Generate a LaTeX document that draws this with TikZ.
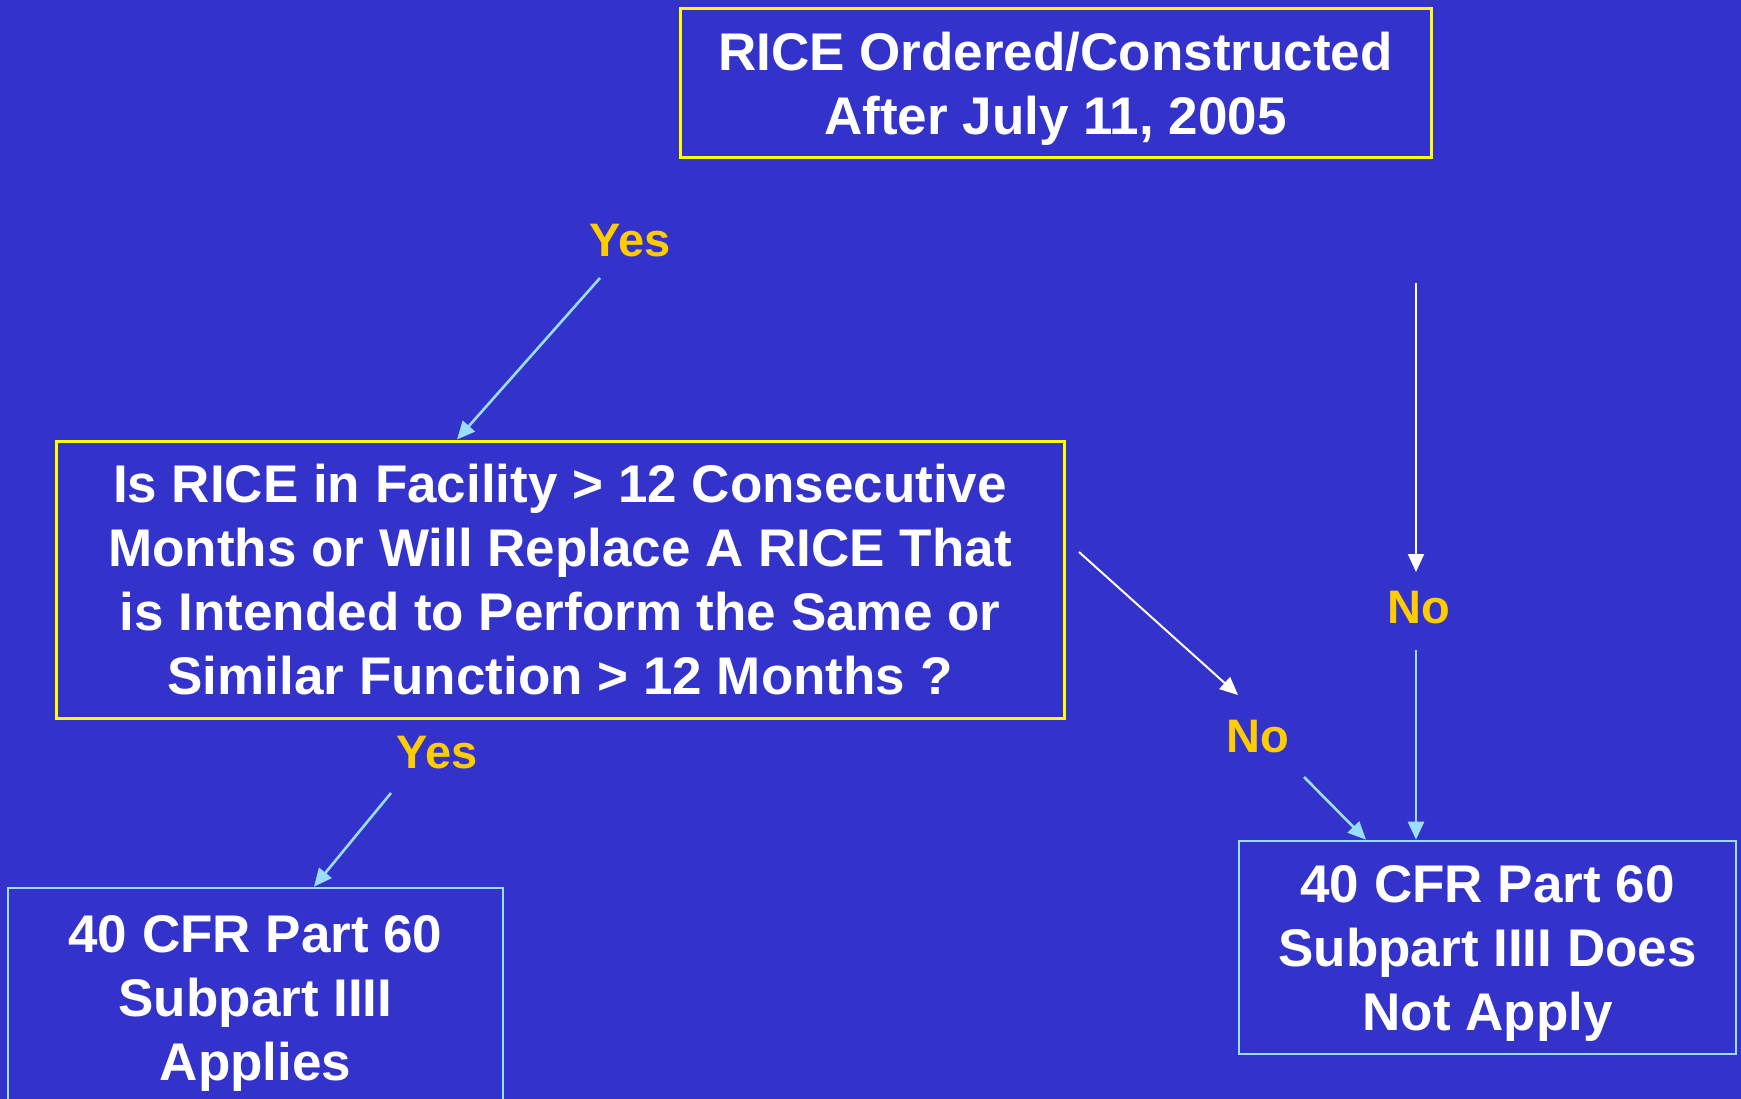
\documentclass[tikz,border=0pt]{standalone}
\usepackage{fontspec}
\setmainfont{Liberation Sans}
\usetikzlibrary{arrows.meta}
\definecolor{slidebg}{HTML}{3333CC}
\definecolor{boxyellow}{HTML}{FFFF00}
\definecolor{labelgold}{HTML}{FFCC00}
\definecolor{paleblue}{HTML}{99DDFF}
\tikzset{
  yellowbox/.style={draw=boxyellow, line width=3pt, text=white,
    font=\fontsize{53}{64}\selectfont\bfseries, align=center, inner sep=0pt,
    text depth=0pt},
  bluebox/.style={yellowbox, draw=paleblue, line width=2.6pt},
  answer/.style={text=labelgold, font=\fontsize{47}{56}\selectfont\bfseries, inner sep=0pt},
  whitearrow/.style={draw=white, line width=2pt, -{Triangle[length=18pt,width=16pt]}},
  bluearrow/.style={whitearrow, draw=paleblue, line width=2.6pt},
}
\begin{document}
\begin{tikzpicture}[x=1pt,y=-1pt]
      \fill[slidebg] (0,0) rectangle (1741,1099);
      \useasboundingbox (0,0) rectangle (1741,1099);
      \node[yellowbox, minimum width=751pt, minimum height=149pt] (rice) at (1055.5,83.5)
        {RICE Ordered/Constructed\\After July 11, 2005};
      \node[yellowbox, minimum width=1008pt, minimum height=277pt] (facility) at (560,579.5)
        {Is RICE in Facility > 12 Consecutive\\Months or Will Replace A RICE That\\is Intended to Perform the Same or\\Similar Function > 12 Months ?};
      \node[bluebox, minimum width=495pt, minimum height=220pt] (applies) at (255.5,998)
        {40 CFR Part 60\\Subpart IIII\\Applies};
      \node[bluebox, minimum width=497pt, minimum height=213pt] (notapply) at (1487.5,947.5)
        {40 CFR Part 60\\Subpart IIII Does\\Not Apply};
      \node[answer] (yes1) at (630,241) {Yes};
      \node[answer] (yes2) at (437,753) {Yes};
      \node[answer] (no1) at (1419,608) {No};
      \node[answer] (no2) at (1258,737) {No};
      \coordinate (yes1tail) at (600,278);
      \coordinate (yes2tail) at (391,793);
      \coordinate (no1tail) at (1416,283);
      \coordinate (no1head) at (1416,572);
      \coordinate (no1out) at (1416,650);
      \coordinate (no2tail) at (1079,552);
      \coordinate (no2head) at (1238,695);
      \coordinate (no2out) at (1304,777);
      \begin{scope}
        \draw[bluearrow] (yes1tail) -- (457,0 |- facility.north);
        \draw[bluearrow] (yes2tail) -- (314,0 |- applies.north);
        \draw[whitearrow] (no1tail) -- (no1head);
        \draw[bluearrow] (no1out) -- (1416,0 |- notapply.north);
        \draw[whitearrow] (no2tail) -- (no2head);
        \draw[bluearrow] (no2out) -- (1366,0 |- notapply.north);
      \end{scope}
    \end{tikzpicture}
\end{document}
